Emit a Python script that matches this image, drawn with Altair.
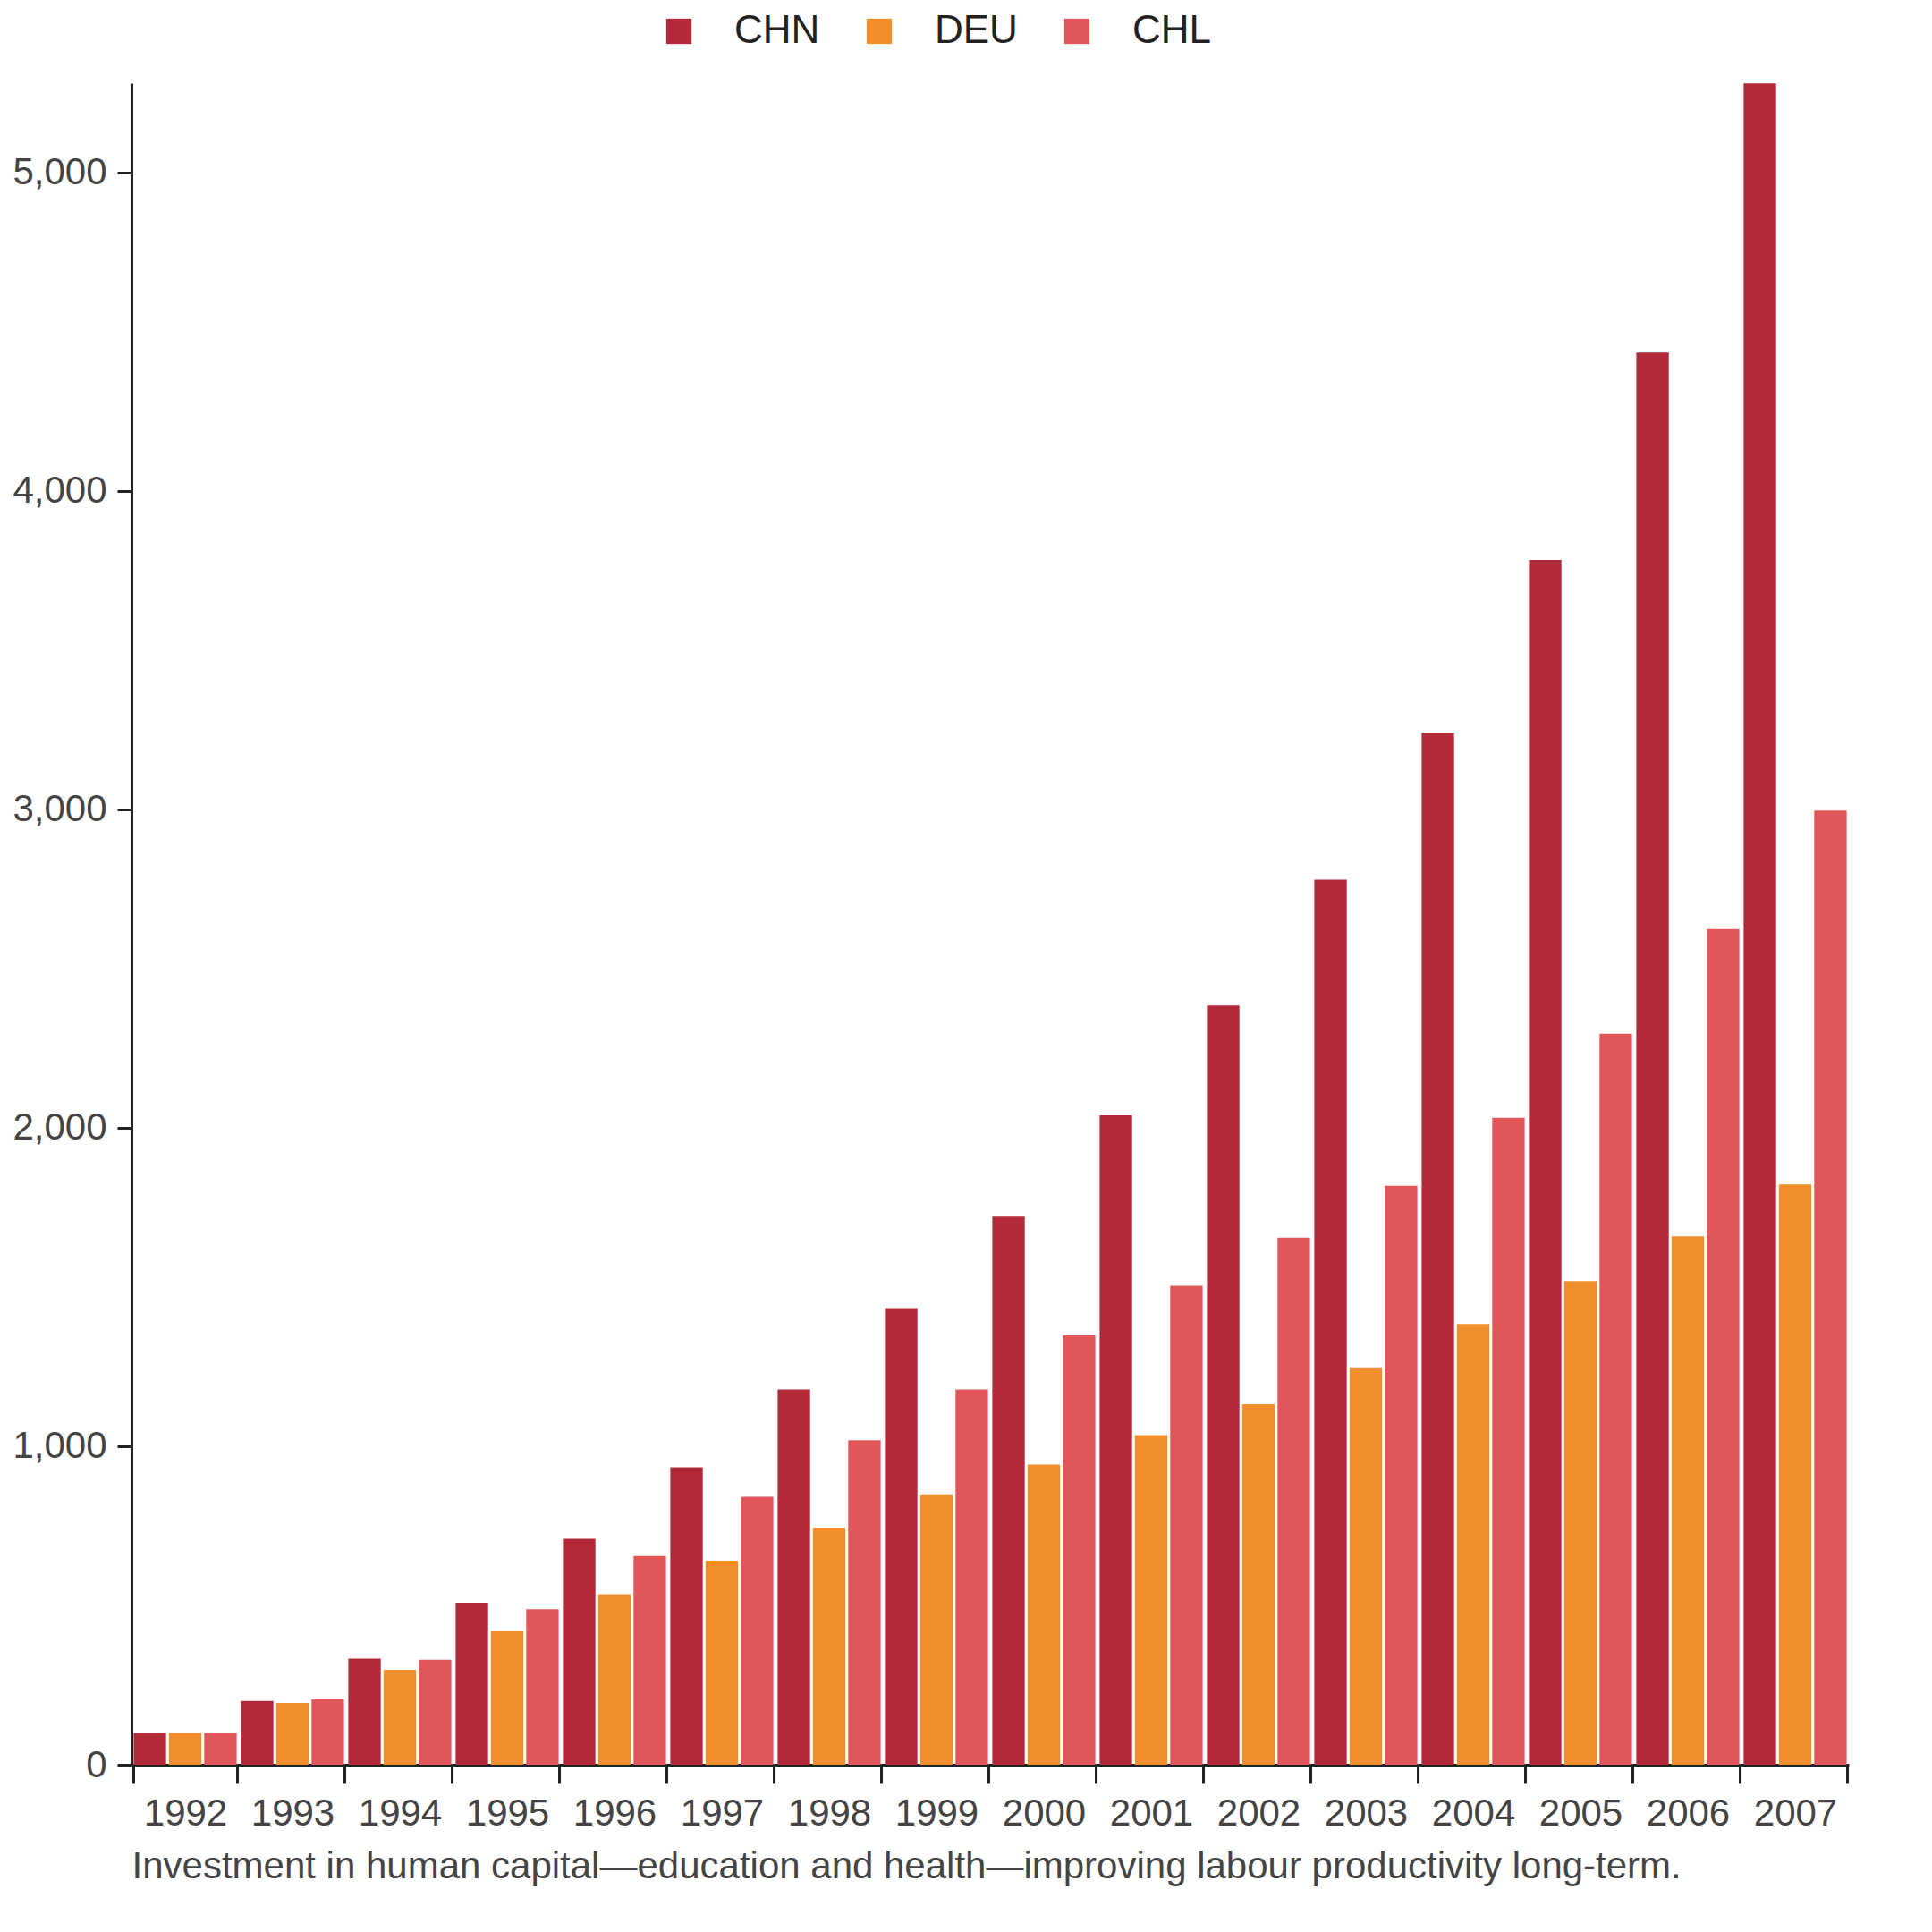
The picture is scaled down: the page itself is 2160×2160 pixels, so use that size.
import altair as alt
import pandas as pd

YEARS = [str(y) for y in range(1992, 2008)]
SERIES = ["CHN", "DEU", "CHL"]
COLOURS = ["#b22a3a", "#f28e2b", "#e15759"]

CHN = [100, 200, 333, 508, 709, 934, 1178, 1434, 1721, 2039, 2384, 2779, 3240, 3783, 4434, 5279]
DEU = [100, 194, 298, 419, 535, 640, 744, 849, 942, 1035, 1132, 1248, 1384, 1519, 1659, 1822]
CHL = [100, 205, 329, 488, 655, 841, 1019, 1178, 1349, 1504, 1655, 1818, 2031, 2295, 2624, 2996]

rows = []
for name, vals in zip(SERIES, [CHN, DEU, CHL]):
    for year, v in zip(YEARS, vals):
        rows.append({"Year": year, "Country": name, "Value": v})
df = pd.DataFrame(rows)

font = "Liberation Sans"

chart = (
    alt.Chart(df)
    .mark_bar()
    .encode(
        x=alt.X(
            "Year:N",
            title="Investment in human capital\u2014education and health\u2014improving labour productivity long-term.",
            scale=alt.Scale(paddingInner=0.04, paddingOuter=0.02),
            axis=alt.Axis(
                labelAngle=0, tickBand="extent", labelFontSize=42, titleFontSize=42,
                titleFontWeight="normal", titleAnchor="start", titlePadding=18,
                tickSize=20, tickWidth=3, domainWidth=3, labelPadding=14,
                labelColor="#444", titleColor="#444", domainColor="#222", tickColor="#222",
            ),
        ),
        xOffset=alt.XOffset("Country:N", sort=SERIES, scale=alt.Scale(paddingInner=0.08)),
        y=alt.Y(
            "Value:Q",
            title=None,
            scale=alt.Scale(domain=[0, 5280], nice=False),
            axis=alt.Axis(
                grid=False, values=[0, 1000, 2000, 3000, 4000, 5000], format=",d",
                labelFontSize=42, tickSize=16, tickWidth=3, domainWidth=3,
                labelPadding=12, labelColor="#444", domainColor="#222", tickColor="#222",
            ),
        ),
        color=alt.Color(
            "Country:N",
            sort=SERIES,
            scale=alt.Scale(domain=SERIES, range=COLOURS),
            legend=alt.Legend(
                orient="none", legendX=590, legendY=-80, direction="horizontal",
                title=None, symbolType="square", symbolSize=800,
                labelFontSize=44, columnPadding=44, labelOffset=40, symbolOpacity=1,
                labelColor="#222",
            ),
        ),
    )
    .properties(width=1920, height=1880)
    .configure(font=font)
    .configure_view(stroke=None)
)

chart.save("out.html", embed_options={"renderer": "svg", "actions": False})
